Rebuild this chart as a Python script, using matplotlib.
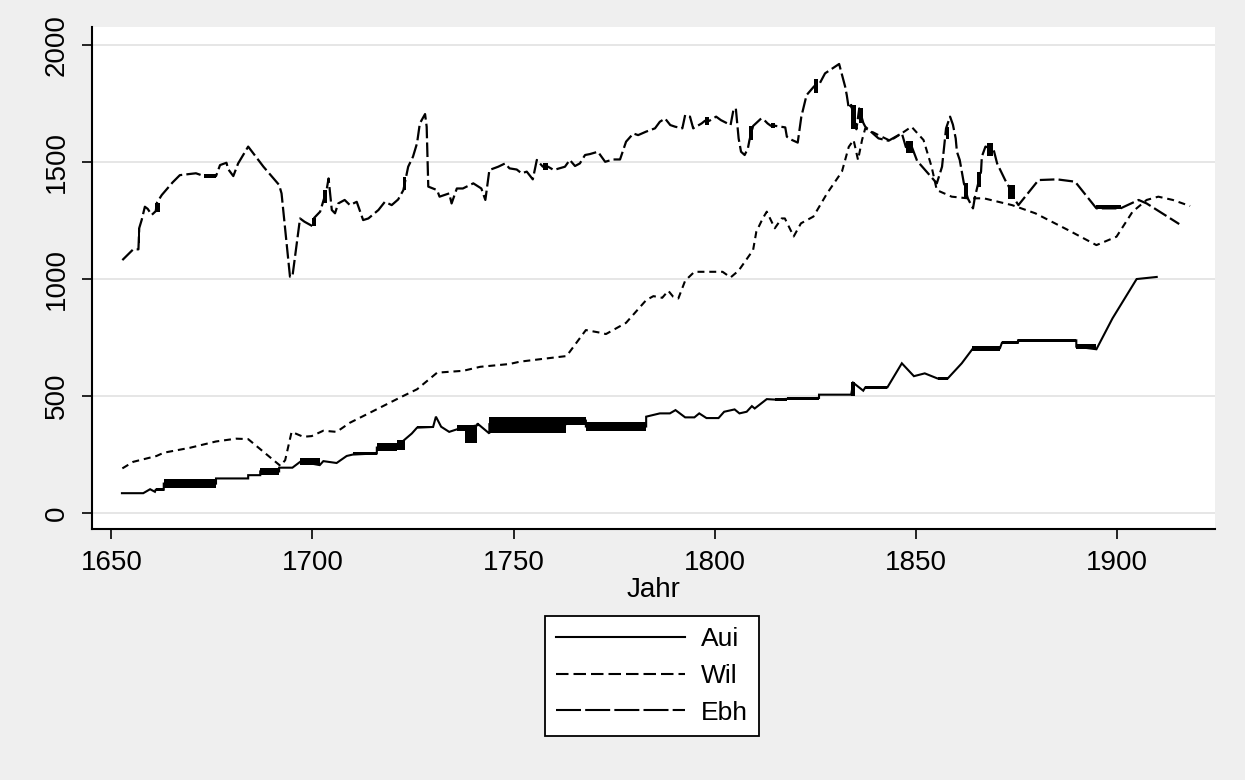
import matplotlib
matplotlib.use("Agg")
import matplotlib.pyplot as plt
from matplotlib.lines import Line2D

plt.rcParams['font.family'] = ['Liberation Sans', 'DejaVu Sans']
plt.rcParams['lines.scale_dashes'] = False

# ---------------- data ----------------
aui_year = [1652.6, 1657.9, 1659.6, 1660.8, 1661, 1663, 1663, 1676, 1676, 1684, 1684, 1687, 1687,
            1691.7, 1691.7, 1695, 1697, 1701.8, 1702.7, 1706, 1708.5, 1710, 1716, 1716, 1721, 1723,
            1724.7, 1726, 1730, 1730.7, 1732, 1734, 1736.3, 1741, 1741, 1744, 1744, 1763, 1763, 1768,
            1768, 1783, 1783, 1786.4, 1788.9, 1790.3, 1792.7, 1795, 1796.2, 1798, 1801, 1802.4, 1805,
            1806.2, 1808, 1809.3, 1810, 1813, 1815, 1818, 1826, 1826, 1834, 1834.5, 1837, 1837.5, 1843,
            1846.6, 1849.6, 1852.3, 1855.5, 1858, 1861.5, 1864.3, 1871, 1871.5, 1875.5, 1875.5, 1890,
            1890, 1895, 1899, 1905, 1910]
aui_val = [85, 85, 102, 91, 100, 100, 126, 126, 148, 148, 162, 162, 178,
           178, 194, 194, 220, 205, 222, 214, 244, 250, 255, 280, 285, 315,
           340, 365, 368, 412, 369, 347, 360, 375, 383, 340, 380, 380, 395, 395,
           370, 370, 412, 426, 426, 440, 409, 409, 426, 406, 406, 433, 443,
           426, 433, 457, 447, 487, 485, 488, 492, 506, 506, 557, 523, 537, 537,
           640, 585, 597, 575, 575, 640, 704, 704, 728, 728, 738, 738,
           711, 700, 832, 1000, 1009]
# blocks of overplotted observations: (year from, year to, low, high)
aui_blocks = [(1661, 1663, 95, 107), (1663, 1676, 108, 144), (1687, 1691.7, 162, 194),
              (1697, 1701.8, 205, 234), (1710, 1716, 248, 262), (1716, 1721, 265, 298),
              (1721, 1723, 269, 312), (1726, 1730, 362, 372), (1736, 1741, 350, 376),
              (1738, 1741, 298, 376), (1744, 1763, 343, 412), (1763, 1768, 376, 412),
              (1768, 1783, 350, 390), (1815, 1818, 480, 493), (1818, 1826, 484, 497),
              (1826, 1834, 503, 509), (1834, 1835, 500, 561), (1837.5, 1843, 530, 543),
              (1855.5, 1858, 568, 583), (1864, 1871, 693, 714), (1871.5, 1875.5, 722, 734),
              (1875.5, 1890, 732, 745), (1890, 1895, 700, 722)]

wil_year = [1652.7, 1655.4, 1661.2, 1663, 1669.5, 1676, 1681, 1684, 1692, 1693.2, 1694.8, 1697.7,
            1699.8, 1702.7, 1706, 1709.3, 1714.3, 1721.8, 1726, 1731, 1737.5, 1741.7, 1749, 1751.6,
            1758.3, 1763.2, 1768, 1771.5, 1773, 1778, 1783, 1784.8, 1787, 1788.5, 1789.7, 1791,
            1792.7, 1795, 1802, 1804, 1806, 1809.6, 1810.4, 1812, 1813, 1815, 1816.7, 1817.5, 1819.7,
            1821.5, 1824.6, 1828, 1831.7, 1833.4, 1834.6, 1835.7, 1836.7, 1837.5, 1840.8, 1843.7,
            1846.6, 1849, 1852, 1854, 1855.3, 1859, 1863, 1867, 1874, 1879.8, 1888, 1895, 1900, 1904,
            1907.5, 1910.4, 1914, 1918.3]
wil_val = [191, 219, 244, 258, 279, 306, 318, 316, 202, 226, 347, 326,
           329, 352, 347, 386, 429, 494, 529, 600, 608, 625, 637, 647,
           661, 671, 782, 771, 765, 813, 910, 927, 920, 950, 925, 917,
           993, 1031, 1031, 1007, 1036, 1124, 1202, 1259, 1288, 1217, 1259, 1259, 1182,
           1238, 1267, 1366, 1459, 1565, 1594, 1509, 1594, 1644, 1615, 1591,
           1623, 1651, 1594, 1480, 1380, 1352, 1345, 1345, 1316, 1281, 1209, 1145, 1181, 1288,
           1338, 1352, 1338, 1312]

ebh_year = [1652.7, 1655.4, 1656.7, 1656.9, 1657.5, 1658.3, 1659, 1660, 1661, 1661.3, 1662.5, 1665.2,
            1667, 1671, 1673, 1676, 1677, 1678.6, 1679, 1680.3, 1681.5, 1684, 1687.8, 1691.7, 1692.3,
            1694.4, 1695, 1696.9, 1698, 1700, 1700.4, 1701.9, 1702.5, 1703.5, 1704, 1704.8, 1705.6,
            1706.4, 1708, 1709.3, 1711, 1712.6, 1713.9, 1716.4, 1718, 1719.7, 1721.3, 1722.6, 1723.3,
            1723.8, 1725, 1726, 1726.7, 1728, 1728.4, 1728.8, 1731, 1731.6, 1734, 1734.6, 1735.9,
            1737.4, 1740, 1742, 1743, 1744, 1746.2, 1747.9, 1749, 1750.8, 1752, 1753.3, 1754.8, 1755.8,
            1757.3, 1758.6, 1760, 1762.8, 1764, 1765.3, 1766.5, 1767.8, 1769, 1771, 1772.8, 1774.8,
            1776.5, 1778, 1779.8, 1781, 1783, 1785.2, 1786.4, 1787.7, 1789, 1790.2, 1792, 1792.7,
            1793.9, 1794.7, 1796.8, 1797.6, 1798.7, 1800.4, 1801.6, 1804, 1804.7, 1805.3, 1806, 1806.6,
            1807.5, 1808.3, 1808.7, 1809.6, 1811.6, 1812.4, 1813.2, 1814, 1815, 1817.6, 1818, 1819.3,
            1820.7, 1821.6, 1822.9, 1824.8, 1825.8, 1827.5, 1831, 1832.5, 1832.9, 1833.4, 1834, 1835.3,
            1836, 1837, 1837.5, 1840.8, 1843.3, 1846.6, 1847.6, 1849.1, 1850.4, 1855.3, 1856.6, 1857.6,
            1858.6, 1859.3, 1860, 1860.3, 1861, 1861.6, 1862, 1863, 1864.3, 1864.8, 1865.4, 1866.3,
            1866.5, 1867.4, 1869.4, 1870.3, 1872.3, 1873, 1874.7, 1875.6, 1880.6, 1885.2, 1889.7, 1895,
            1901, 1905.5, 1907.5, 1915.6]
ebh_val = [1081, 1127, 1127, 1218, 1252, 1309, 1300, 1274, 1290, 1326, 1359, 1413,
           1444, 1452, 1440, 1440, 1487, 1497, 1470, 1440, 1494, 1566, 1480, 1402, 1366,
           1010, 1010, 1259, 1245, 1226, 1261, 1288, 1323, 1380, 1430, 1295, 1281,
           1323, 1338, 1316, 1330, 1252, 1259, 1295, 1330, 1316, 1340, 1380, 1437,
           1480, 1523, 1580, 1665, 1705, 1651, 1395, 1380, 1352, 1366, 1323, 1387,
           1387, 1409, 1387, 1338, 1466, 1480, 1494, 1473, 1468, 1452, 1459, 1426, 1509,
           1480, 1480, 1466, 1480, 1509, 1483, 1494, 1530, 1534, 1544, 1501, 1511,
           1511, 1587, 1622, 1615, 1630, 1644, 1672, 1686, 1658, 1651, 1644, 1701,
           1694, 1644, 1665, 1676, 1676, 1694, 1679, 1658, 1722, 1730, 1601, 1544,
           1530, 1558, 1594, 1654, 1686, 1679, 1665, 1655, 1655, 1648, 1608, 1594,
           1583, 1694, 1786, 1824, 1824, 1879, 1919, 1822, 1786, 1729, 1744, 1640,
           1729, 1668, 1651, 1601, 1591, 1623, 1564, 1564, 1505, 1409, 1480, 1644,
           1694, 1660, 1601, 1544, 1509, 1452, 1412, 1345, 1302, 1352, 1395, 1459,
           1523, 1566, 1555, 1494, 1423, 1402, 1340, 1316, 1423, 1426, 1416, 1302,
           1302, 1338, 1323, 1235]
ebh_blocks = [(1656.6, 1657.1, 1155, 1218), (1660.8, 1662, 1288, 1326), (1673, 1676, 1433, 1447),
              (1700, 1700.8, 1226, 1261), (1702.5, 1703.5, 1323, 1380), (1722.6, 1723.3, 1380, 1437),
              (1757.3, 1758.6, 1466, 1494), (1797.6, 1798.7, 1658, 1694), (1808.7, 1809.6, 1594, 1654),
              (1814, 1815, 1644, 1665), (1824.8, 1825.8, 1796, 1853), (1834, 1835.3, 1640, 1744),
              (1836, 1837, 1668, 1729), (1847.6, 1849.3, 1537, 1591), (1857.6, 1858.4, 1600, 1650),
              (1862, 1863, 1345, 1412), (1865.4, 1866.3, 1395, 1459), (1867.8, 1869.4, 1526, 1583),
              (1873, 1874.7, 1340, 1402), (1895, 1901, 1298, 1316)]

series_names = ["Aui", "Wil", "Ebh"]
x_ticks = [1650, 1700, 1750, 1800, 1850, 1900]
y_ticks = [0, 500, 1000, 1500, 2000]

# ---------------- figure ----------------
BG = "#efefef"
fig = plt.figure(figsize=(12.45, 7.8), dpi=100, facecolor=BG)
ax = fig.add_axes([92/1245, 1-529/780, (1215-92)/1245, (529-27)/780])
ax.set_facecolor("white")

for y in y_ticks:
    ax.axhline(y, color="#e6e6e6", lw=1.4, zorder=0)

wil_dash = (0, (5.0, 3.5))
ebh_dash = (0, (10.5, 3.0))

ax.plot(aui_year, aui_val, color="black", lw=1.5, solid_joinstyle="miter", zorder=3)
ax.plot(wil_year, wil_val, color="black", lw=1.5, linestyle=wil_dash, zorder=3)
ax.plot(ebh_year, ebh_val, color="black", lw=1.6, linestyle=ebh_dash, zorder=3)

for (x0, x1, lo, hi) in aui_blocks + ebh_blocks:
    ax.fill_between([x0, x1], [lo, lo], [hi, hi], color="black", lw=0, zorder=3)

ax.set_xlim(1645.15, 1924.5)
ax.set_ylim(-68, 2077)
ax.set_xticks(x_ticks)
ax.set_yticks(y_ticks)
ax.set_xticklabels([str(t) for t in x_ticks], fontsize=20)
ax.set_yticklabels([str(t) for t in y_ticks], fontsize=20, rotation=90, va="center")
ax.tick_params(axis="both", direction="out", length=7, width=1.2, color="black")
ax.tick_params(axis="x", pad=8)
ax.tick_params(axis="y", pad=9)

for s in ["top", "right"]:
    ax.spines[s].set_visible(False)
for s in ["left", "bottom"]:
    ax.spines[s].set_linewidth(1.5)
    ax.spines[s].set_color("black")

ax.set_xlabel("Jahr", fontsize=20, labelpad=1)

handles = [Line2D([], [], color="black", lw=1.5),
           Line2D([], [], color="black", lw=1.5, linestyle=(0, (9.0, 3.6))),
           Line2D([], [], color="black", lw=1.5, linestyle=(0, (18.0, 3.0)))]
leg = fig.legend(handles, series_names, loc="center", bbox_to_anchor=(652/1245, 1-676/780),
                 fontsize=19, frameon=True, fancybox=False, edgecolor="black",
                 facecolor="white", framealpha=1.0, handlelength=4.9, handletextpad=0.6,
                 labelspacing=0.48, borderpad=0.42, borderaxespad=0)
leg.get_frame().set_linewidth(1.3)

fig.savefig("out.png", dpi=100, facecolor=BG)
